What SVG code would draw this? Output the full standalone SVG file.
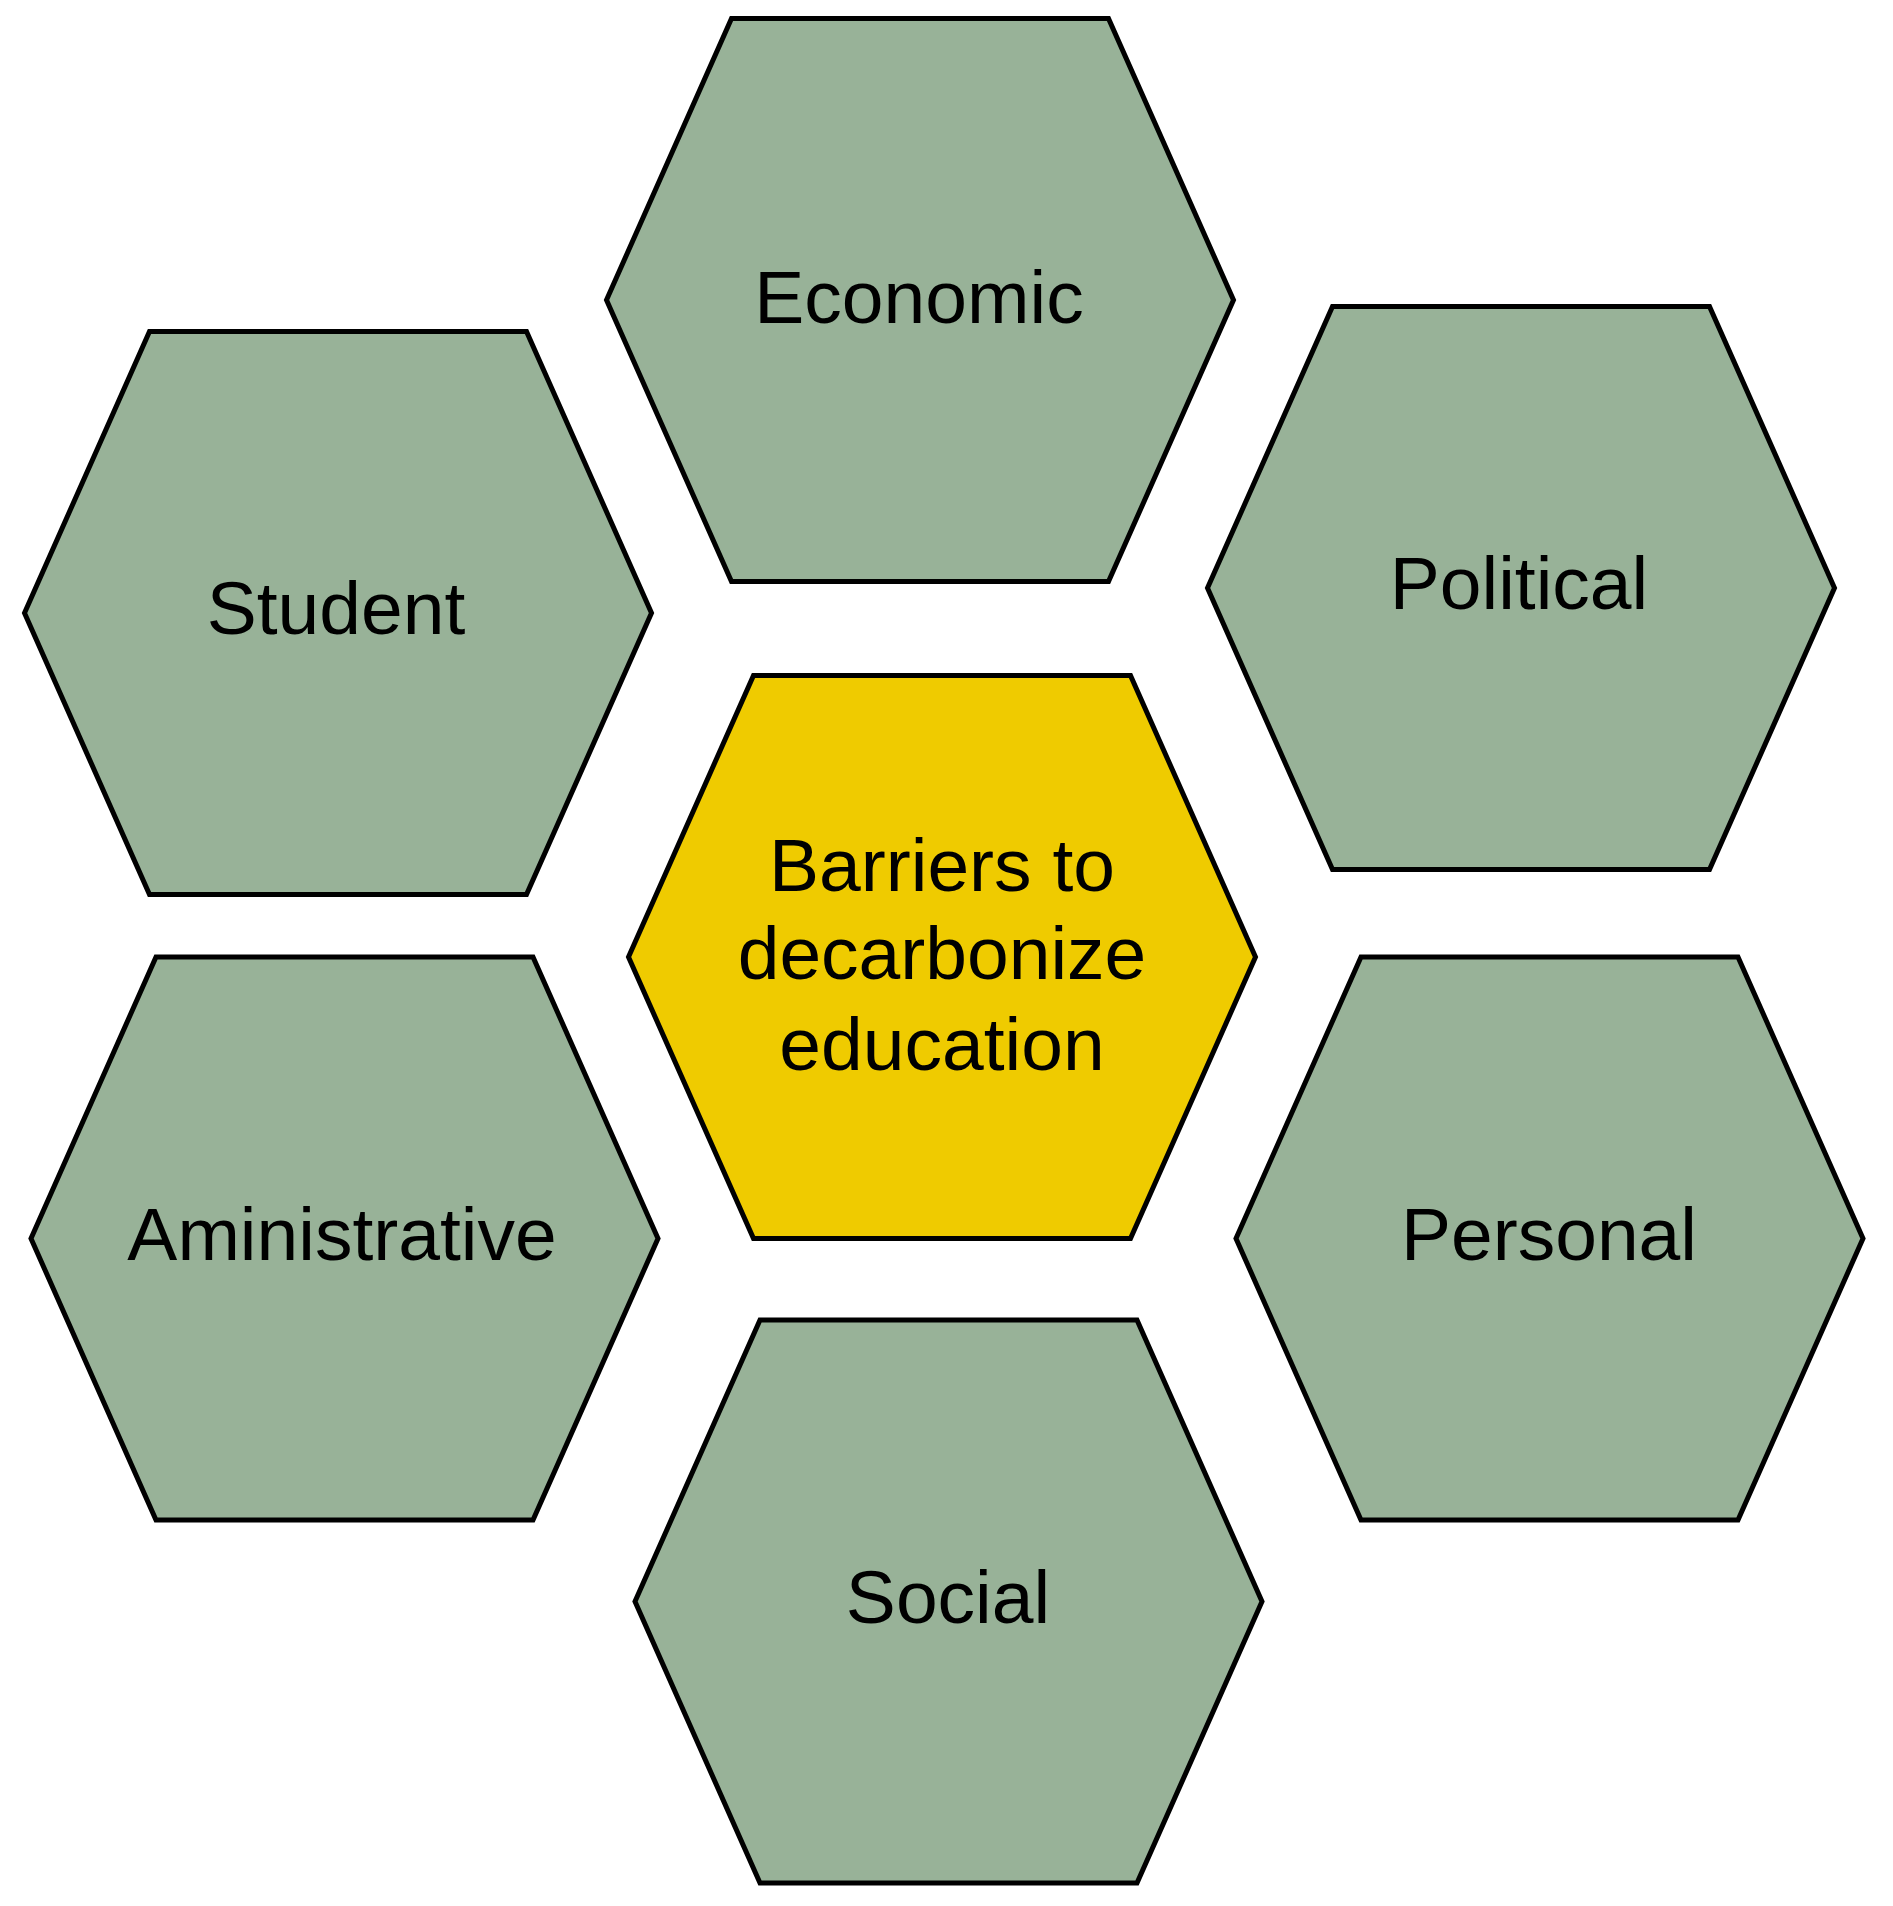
<svg xmlns="http://www.w3.org/2000/svg" xmlns:xlink="http://www.w3.org/1999/xlink" width="1893" height="1906" viewBox="0 0 1893 1906">
<style>
.hex{stroke:#000;stroke-width:5;stroke-linejoin:miter}
.g{fill:#98B298}
.y{fill:#EFCB00}
text{font-family:"Liberation Sans",Arial,sans-serif;font-size:75px;fill:#000;text-anchor:middle}
</style>
<defs>
<polygon id="hexshape" points="-188.5,-281.5 188.5,-281.5 313.5,0 188.5,281.5 -188.5,281.5 -313.5,0"/>
</defs>
<rect width="1893" height="1906" fill="#fff"/>
<g id="connectors"/>
<g id="node-economic">
<use xlink:href="#hexshape" class="hex g" transform="translate(920,300)"/>
<text x="919" y="323">Economic</text>
</g>
<g id="node-student">
<use xlink:href="#hexshape" class="hex g" transform="translate(338,613)"/>
<text x="336" y="634">Student</text>
</g>
<g id="node-political">
<use xlink:href="#hexshape" class="hex g" transform="translate(1521,588)"/>
<text x="1519" y="609">Political</text>
</g>
<g id="node-center">
<use xlink:href="#hexshape" class="hex y" transform="translate(942,957)"/>
<text x="942" y="891">Barriers to</text>
<text x="942" y="979">decarbonize</text>
<text x="942" y="1070">education</text>
</g>
<g id="node-administrative">
<use xlink:href="#hexshape" class="hex g" transform="translate(344.5,1238.5)"/>
<text x="342" y="1260">Aministrative</text>
</g>
<g id="node-personal">
<use xlink:href="#hexshape" class="hex g" transform="translate(1549.5,1238.5)"/>
<text x="1549" y="1260">Personal</text>
</g>
<g id="node-social">
<use xlink:href="#hexshape" class="hex g" transform="translate(948.5,1601.5)"/>
<text x="948" y="1623">Social</text>
</g>
</svg>
